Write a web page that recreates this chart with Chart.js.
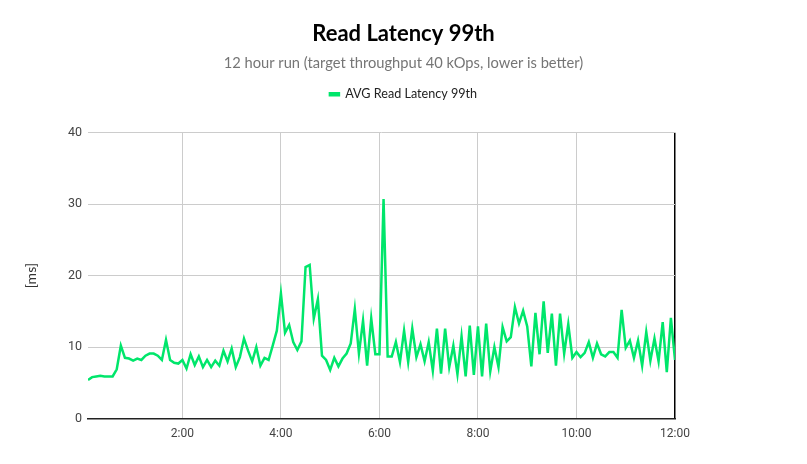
<!DOCTYPE html>
<html>
<head>
<meta charset="utf-8">
<script src="https://cdn.jsdelivr.net/npm/chart.js@4"></script>
<style>
  html, body { margin: 0; padding: 0; background: #fff; }
  #wrap { width: 807px; height: 464px; }
</style>
</head>
<body>
<div id="wrap"><canvas id="latencyChart"></canvas></div>
<script>
// 5 minute samples, first sample at 0:05, last at 12:00
const seriesLabel = 'AVG Read Latency 99th';
const sampleMinutes = 5;
const latencyMs = [
  5.4, 5.8, 5.9, 6.0, 5.9, 5.9, 5.9, 6.9, 10.2, 8.5,
  8.4, 8.1, 8.4, 8.2, 8.8, 9.1, 9.1, 8.8, 8.2, 11.0,
  8.2, 7.8, 7.7, 8.2, 7.0, 9.0, 7.5, 8.7, 7.2, 8.2,
  7.2, 8.1, 7.4, 9.5, 8.0, 9.8, 7.2, 8.6, 11.2, 9.5,
  8.0, 10.0, 7.4, 8.5, 8.2, 10.2, 12.3, 17.5, 12.0, 13.1,
  10.7, 9.6, 10.8, 21.2, 21.5, 14.0, 16.7, 8.8, 8.2, 6.8,
  8.5, 7.3, 8.4, 9.1, 10.5, 15.3, 9.1, 13.7, 7.4, 14.0,
  9.0, 9.0, 30.7, 8.7, 8.7, 10.7, 7.9, 12.3, 7.9, 12.6,
  8.6, 10.4, 8.0, 10.7, 6.7, 12.6, 6.3, 12.6, 7.2, 10.2,
  6.2, 11.5, 5.9, 13.0, 6.1, 12.9, 5.9, 13.3, 6.6, 10.0,
  7.2, 12.8, 10.8, 11.4, 15.6, 13.3, 15.1, 12.9, 7.3, 14.8,
  9.0, 16.4, 9.2, 14.7, 7.4, 14.7, 9.1, 13.2, 8.5, 9.3,
  8.6, 9.2, 10.7, 8.5, 10.5, 9.0, 8.7, 9.3, 9.3, 8.5,
  15.2, 9.9, 10.9, 8.5, 10.9, 7.4, 12.1, 8.1, 11.2, 8.0,
  13.5, 6.5, 14.1, 8.2
];
const xTickHours = [2, 4, 6, 8, 10, 12];
const yTicks = [0, 10, 20, 30, 40];

const points = latencyMs.map((v, i) => ({ x: (i + 1) * sampleMinutes / 60, y: v }));
const lineColor = '#00e66b';

// leave a gap under the legend
const legendGap = {
  id: 'legendGap',
  beforeInit(chart) {
    const fit = chart.legend.fit;
    chart.legend.fit = function () {
      fit.bind(chart.legend)();
      this.height += 22;
    };
  }
};

new Chart(document.getElementById('latencyChart'), {
  type: 'line',
  data: {
    datasets: [{
      label: seriesLabel,
      data: points,
      borderColor: lineColor,
      backgroundColor: lineColor,
      borderWidth: 2.5,
      pointRadius: 0,
      tension: 0
    }]
  },
  options: {
    responsive: true,
    maintainAspectRatio: false,
    animation: false,
    layout: { padding: { left: 0, right: 0, bottom: 15 } },
    plugins: {
      title: {
        display: true,
        text: 'Read Latency 99th',
        color: '#000',
        font: { family: 'Lato', size: 22, weight: 'bold' },
        padding: { top: 21, bottom: 4 }
      },
      subtitle: {
        display: true,
        text: '12 hour run (target throughput 40 kOps, lower is better)',
        color: '#757575',
        font: { family: 'Lato', size: 14.7 },
        padding: { top: 3, bottom: 6 }
      },
      legend: {
        labels: {
          color: '#222',
          font: { family: 'Lato', size: 12.6 },
          boxWidth: 9,
          boxHeight: 2
        }
      },
      tooltip: { enabled: false }
    },
    scales: {
      x: {
        type: 'linear',
        min: sampleMinutes / 60,
        max: 12,
        afterBuildTicks: s => { s.ticks = xTickHours.map(h => ({ value: h })); },
        grid: {
          color: c => c.tick && c.tick.value === 12 ? '#000' : '#cccccc',
          lineWidth: c => c.tick && c.tick.value === 12 ? 1.5 : 1,
          drawTicks: false
        },
        border: { color: '#222', width: 1.5 },
        ticks: {
          color: '#444',
          font: { family: 'Roboto', size: 12 },
          padding: 8,
          maxRotation: 0,
          callback: v => v + ':00'
        }
      },
      y: {
        min: 0,
        max: 40,
        afterBuildTicks: s => { s.ticks = yTicks.map(v => ({ value: v })); },
        afterFit: s => { s.width = 88; },
        grid: { color: '#cccccc', drawTicks: false },
        border: { display: false },
        title: {
          display: true,
          text: '[ms]',
          color: '#333',
          font: { family: 'Lato', size: 14 },
          padding: { top: 23, bottom: 4 }
        },
        ticks: {
          color: '#444',
          font: { family: 'Roboto', size: 12.5 },
          padding: 6
        }
      },
      // empty right axis only reserves the right margin
      yRight: {
        position: 'right',
        min: 0,
        max: 40,
        afterFit: s => { s.width = 132; },
        grid: { display: false },
        border: { display: false },
        ticks: { display: false }
      }
    }
  },
  plugins: [legendGap]
});
</script>
</body>
</html>
